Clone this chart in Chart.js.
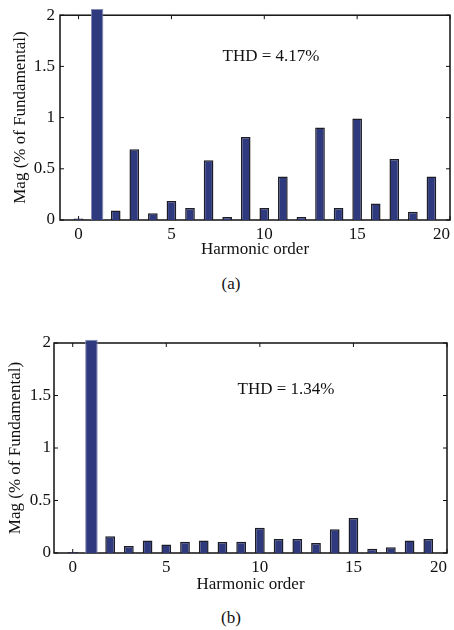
<!DOCTYPE html>
<html>
<head>
<meta charset="utf-8">
<script src="https://cdn.jsdelivr.net/npm/chart.js@4/dist/chart.umd.min.js"></script>
<style>
  body { margin: 0; width: 454px; height: 630px; overflow: hidden; background: #fff; position: relative; }
  canvas { position: absolute; left: 0; }
  .cap { position: absolute; left: 0; width: 462px; text-align: center; font: 17px 'Liberation Serif', serif; color: #111; line-height: 20px; }
</style>
</head>
<body>
<canvas id="chartA" width="454" height="262" style="top:0"></canvas>
<div class="cap" style="top:274px">(a)</div>
<canvas id="chartB" width="454" height="280" style="top:320px"></canvas>
<div class="cap" style="top:608px">(b)</div>
<script>
const harmonicOrder = [0, 1, 2, 3, 4, 5, 6, 7, 8, 9, 10, 11, 12, 13, 14, 15, 16, 17, 18, 19]
const magA = [0.015, 2.06, 0.093, 0.69, 0.067, 0.186, 0.118, 0.583, 0.029, 0.81,
              0.118, 0.426, 0.029, 0.904, 0.118, 0.99, 0.16, 0.596, 0.08, 0.426]
const magB = [0.01, 2.03, 0.16, 0.067, 0.12, 0.08, 0.108, 0.12, 0.105, 0.108,
              0.24, 0.134, 0.134, 0.096, 0.226, 0.334, 0.041, 0.054, 0.12, 0.134]
const fundamental = 1
const xMin = -1
const xTicks = [0, 5, 10, 15, 20]
const yTicks = [0, 0.5, 1, 1.5, 2]
const thdA = 'THD = 4.17%'
const thdB = 'THD = 1.34%'

const serif = "'Liberation Serif', 'Times New Roman', serif"
const ink = '#111'
const navy = '#2f3a7e'

// box round the plot with matlab style inward ticks, plus the THD note
const framePlugin = {
    id: 'frame',
    beforeDatasetsDraw(chart) {
        const { ctx, chartArea: a, scales } = chart
        ctx.save()
        ctx.strokeStyle = ink
        ctx.lineWidth = 1.5
        ctx.strokeRect(a.left, a.top, a.right - a.left, a.bottom - a.top)
        ctx.lineWidth = 1
        ctx.beginPath()
        xTicks.forEach(v => {
            const px = scales.x.getPixelForValue(v)
            ctx.moveTo(px, a.bottom); ctx.lineTo(px, a.bottom - 4)
            ctx.moveTo(px, a.top); ctx.lineTo(px, a.top + 4)
        })
        yTicks.forEach(v => {
            const py = scales.y.getPixelForValue(v)
            ctx.moveTo(a.left, py); ctx.lineTo(a.left + 4, py)
            ctx.moveTo(a.right, py); ctx.lineTo(a.right - 4, py)
        })
        ctx.stroke()
        ctx.restore()
    },
    afterDatasetsDraw(chart, args, opts) {
        const { ctx, scales } = chart
        ctx.save()
        ctx.font = '17px ' + serif
        ctx.fillStyle = ink
        ctx.textAlign = 'center'
        ctx.textBaseline = 'middle'
        ctx.fillText(opts.text, scales.x.getPixelForValue(opts.x), scales.y.getPixelForValue(opts.y))
        ctx.restore()
    }
}

function makeChart(id, mag, thd, layout) {
    const pts = harmonicOrder.map((o, i) => ({ x: o, y: mag[i] }))
    new Chart(document.getElementById(id), {
        type: 'bar',
        data: {
            datasets: [{
                data: pts.filter(p => p.x === fundamental),
                backgroundColor: navy,
                borderColor: '#8389b3',
                borderWidth: 1,
                barPercentage: 0.67,
                categoryPercentage: 1,
                grouped: false,
                clip: false
            }, {
                data: pts.filter(p => p.x !== fundamental),
                backgroundColor: navy,
                borderColor: '#1c1c26',
                borderWidth: 1.5,
                barPercentage: 0.52,
                categoryPercentage: 1,
                grouped: false
            }]
        },
        options: {
            responsive: false,
            animation: false,
            layout: { padding: layout.padding },
            plugins: {
                legend: { display: false },
                tooltip: { enabled: false },
                frame: thd
            },
            scales: {
                x: {
                    type: 'linear',
                    min: xMin,
                    max: 20,
                    offset: false,
                    grid: { display: false, drawTicks: false, offset: false },
                    border: { display: false },
                    // blank tick at the left edge so that 'inner' only pulls the 20 inside
                    afterBuildTicks: s => { s.ticks = [xMin, ...xTicks].map(v => ({ value: v })) },
                    afterFit: s => { s.height = layout.xHeight },
                    ticks: { padding: 4, align: 'inner', color: ink, font: { family: serif, size: 17 }, callback: v => v < 0 ? '' : String(v), maxRotation: 0 },
                    title: { display: true, text: 'Harmonic order', color: ink, padding: 0, font: { family: serif, size: 17 } }
                },
                y: {
                    min: 0,
                    max: 2,
                    grid: { display: false, drawTicks: false },
                    border: { display: false },
                    afterBuildTicks: s => { s.ticks = yTicks.map(v => ({ value: v })) },
                    afterFit: s => { s.width = layout.yWidth },
                    ticks: { padding: layout.yPad, color: ink, font: { family: serif, size: 17 }, callback: v => String(v) },
                    title: { display: true, text: 'Mag (% of Fundamental)', color: ink, padding: 0, font: { family: serif, size: 17 } }
                }
            }
        },
        plugins: [framePlugin]
    })
}

makeChart('chartA', magA, { text: thdA, x: 10.36, y: 1.6 },
    { padding: { top: 12, left: 10, right: 4, bottom: 2 }, xHeight: 40, yWidth: 50, yPad: 5 })
makeChart('chartB', magB, { text: thdB, x: 11.4, y: 1.56 },
    { padding: { top: 23, left: 5, right: 7, bottom: 5 }, xHeight: 42, yWidth: 49, yPad: 3 })
</script>
</body>
</html>
